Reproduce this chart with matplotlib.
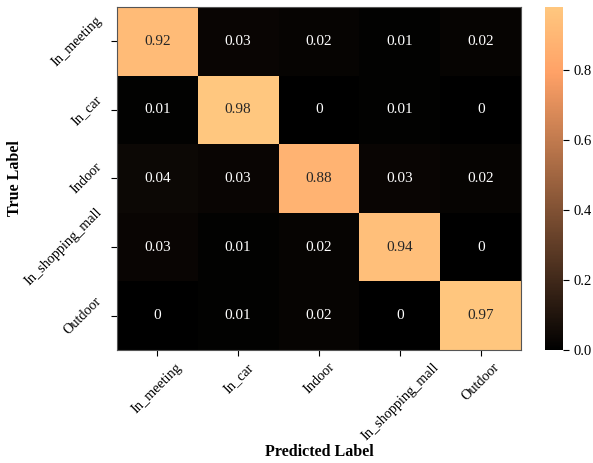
import numpy as np
import matplotlib
matplotlib.use("Agg")
import matplotlib.pyplot as plt
import seaborn as sns

labels = ["In_meeting", "In_car", "Indoor", "In_shopping_mall", "Outdoor"]
cm = np.array([
    [0.92, 0.03, 0.02, 0.01, 0.02],
    [0.01, 0.98, 0.00, 0.01, 0.00],
    [0.04, 0.03, 0.88, 0.03, 0.02],
    [0.03, 0.01, 0.02, 0.94, 0.00],
    [0.00, 0.01, 0.02, 0.00, 0.97],
])

plt.rcParams['font.family'] = ['Liberation Serif', 'DejaVu Serif']

fig = plt.figure(figsize=(5.93, 4.63), dpi=100)
ax = fig.add_axes([0.197, 0.244, 0.682, 0.741])
cax = fig.add_axes([0.919, 0.244, 0.031, 0.741])

sns.heatmap(cm, annot=True, fmt='g', cmap='copper', ax=ax, cbar_ax=cax,
            xticklabels=labels, yticklabels=labels,
            annot_kws={"fontsize": 11})

ax.set_xticklabels(labels, rotation=45, ha='center', fontsize=10.3)
ax.set_yticklabels(labels, rotation=45, ha='right', va='center', fontsize=10.3)
ax.tick_params(length=4)
ax.tick_params(axis='y', pad=5)
ax.set_xlabel("Predicted Label", fontweight='bold', fontsize=11.5)
ax.set_ylabel("True Label", fontweight='bold', fontsize=11.5)
ax.xaxis.set_label_coords(0.5, -0.275)
ax.yaxis.set_label_coords(-0.232, 0.5)
for s in ax.spines.values():
    s.set_visible(True)
    s.set_linewidth(0.8)
    s.set_color('#555555')

cax.tick_params(labelsize=10.5, length=4)

fig.savefig("out.png", dpi=100)
